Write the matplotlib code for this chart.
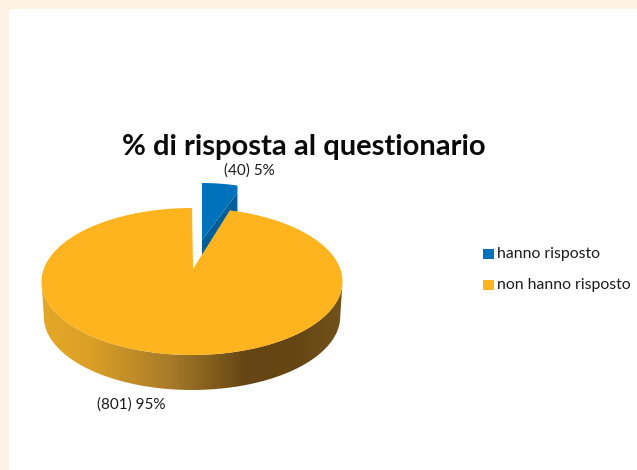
import numpy as np
import matplotlib
matplotlib.use('Agg')
from matplotlib import pyplot as plt
from matplotlib.path import Path
from matplotlib.patches import PathPatch, Rectangle
from matplotlib.colors import LinearSegmentedColormap

labels = ['hanno risposto', 'non hanno risposto']
counts = [40, 801]
pct_labels = ['(40) 5%', '(801) 95%']
title = '% di risposta al questionario'

plt.rcParams['font.family'] = ['Lato', 'DejaVu Sans']

W, H = 637, 470
BG = '#fdf1e3'
BLUE = '#0072bc'
BLUE_DARK = '#005f99'
YELLOW = '#fdb41e'

fig = plt.figure(figsize=(W / 100, H / 100), dpi=100, facecolor=BG)
ax = fig.add_axes([0, 0, 1, 1])
ax.axis('off')

# white panel, open on the right and at the bottom
ax.add_patch(Rectangle((9, 9), W, H, fc='white', ec='none', zorder=0))

# ellipse of the top face
cx, cy, rx, ry = 192, 281.5, 150.5, 73.5
depth = 35
apex = (193, 269)
share = counts[0] / sum(counts)
split = 2 * np.pi * share


def rim(a0, a1, n=200):
    t = np.linspace(a0, a1, n)
    return cx + rx * np.sin(t), cy - ry * np.cos(t)


# side wall, shaded left to right and clipped on the lower half of the rim
x, y = rim(np.pi / 2, 3 * np.pi / 2)
low_x = cx + (x - cx) * 0.985
side = np.vstack([np.c_[x, y], np.c_[low_x[::-1], y[::-1] + depth]])
clip = PathPatch(Path(side), fc='none', ec='none')
ax.add_patch(clip)
cmap = LinearSegmentedColormap.from_list('side', [
    (0.00, '#e5a726'), (0.16, '#dba026'), (0.42, '#a97c2a'),
    (0.68, '#654513'), (0.85, '#664714'), (1.00, '#72521a')])
img = ax.imshow(np.linspace(0, 1, 300)[None, :], cmap=cmap, aspect='auto',
                extent=(41, 343, 400, 270), zorder=1)
img.set_clip_path(clip)

# top face of the big slice
x, y = rim(split * 0.85, 2 * np.pi)
ax.fill(np.r_[apex[0], x], np.r_[apex[1], y], color=YELLOW, lw=0, zorder=3)

# exploded small slice: cut face first, then the top
x, y = rim(0, split)
bx = 202 + 0.8 * (x - cx)
by = 183 + 0.8 * (y - (cy - ry))
ax.fill([bx[-1], bx[-1], 202, 202], [by[-1] + 7, 214, 255, 240],
        color=BLUE_DARK, lw=0, zorder=2)
ax.fill(np.r_[bx, bx[-1], 202], np.r_[by, by[-1] + 7, 240],
        color=BLUE, lw=0, zorder=2)

# texts
ax.text(304, 147, title, ha='center', va='center', fontsize=21, fontweight='bold', color='#0a0a0a')
ax.text(249, 171, pct_labels[0], ha='center', va='center', fontsize=11, color='#1a1a1a')
ax.text(131, 405, pct_labels[1], ha='center', va='center', fontsize=11, color='#1a1a1a')

# legend
for lab, col, ly in zip(labels, [BLUE, YELLOW], [254, 285]):
    ax.add_patch(Rectangle((483, ly - 5), 11, 10, fc=col, ec='none'))
    ax.text(497, ly, lab, ha='left', va='center', fontsize=11.3, color='#1a1a1a')

ax.set_xlim(0, W)
ax.set_ylim(H, 0)
fig.savefig('out.png', dpi=100, facecolor=BG)
